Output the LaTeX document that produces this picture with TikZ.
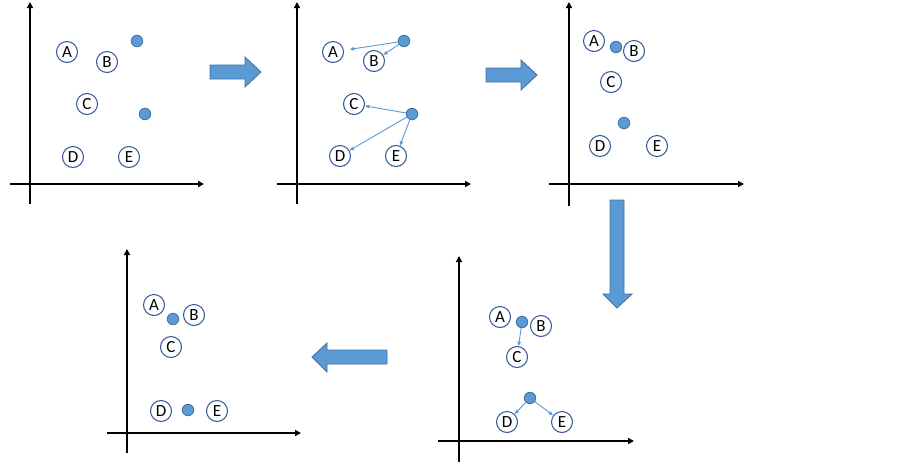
\documentclass[tikz,border=0pt]{standalone}
\usepackage{fontspec}
\setmainfont{Carlito}
\usetikzlibrary{arrows.meta}
\definecolor{fillb}{HTML}{5B9BD5}
\definecolor{lineb}{HTML}{41719C}
\definecolor{ringb}{HTML}{2F5597}
\begin{document}
\begin{tikzpicture}[x=1pt,y=-1pt,
 pt/.style={circle,draw=ringb,line width=1pt,fill=white,minimum size=21pt,inner sep=0pt,font=\fontsize{17}{17}\selectfont},
 ctr/.style={circle,draw=lineb,fill=fillb,line width=0.8pt,minimum size=11.5pt,inner sep=0pt},
 axis/.style={line width=1.5pt,-{Triangle[length=6pt,width=6pt]}},
 mv/.style={draw=fillb,line width=0.9pt,-{Triangle[length=4.5pt,width=3.5pt]}},
 blk/.style={fill=fillb,draw=lineb,line width=0.8pt}]
\useasboundingbox[fill=white] (0,0) rectangle (903,464);

% ---------- panel 1 ----------
\coordinate (p1xs) at (10,184); \coordinate (p1xe) at (204,184);
\coordinate (p1ys) at (30,204); \coordinate (p1ye) at (30,2);
\draw[axis] (p1xs) -- (p1xe);
\draw[axis] (p1ys) -- (p1ye);
\node[pt] (a1) at (67,52) {A};
\node[pt] (b1) at (107,62) {B};
\node[pt] (c1) at (87,104) {C};
\node[pt] (d1) at (73,157) {D};
\node[pt] (e1) at (129,157) {E};
\node[ctr] (k11) at (137,41) {};
\node[ctr] (k12) at (145,114) {};

% ---------- panel 2 ----------
\coordinate (p2xs) at (277,184); \coordinate (p2xe) at (471,184);
\coordinate (p2ys) at (297,204); \coordinate (p2ye) at (297,2);
\draw[axis] (p2xs) -- (p2xe);
\draw[axis] (p2ys) -- (p2ye);
\node[pt] (a2) at (333,52) {A};
\node[pt] (b2) at (374,61) {B};
\node[pt] (c2) at (354,104) {C};
\node[pt] (d2) at (340,156) {D};
\node[pt] (e2) at (396,156) {E};
\node[ctr] (k21) at (404,41) {};
\node[ctr] (k22) at (412,114) {};
\draw[mv,shorten >=6pt] (k21) -- (a2);
\draw[mv] (k21) -- (b2);
\draw[mv] (k22) -- (c2);
\draw[mv] (k22) -- (d2);
\draw[mv] (k22) -- (e2);

% ---------- panel 3 ----------
\coordinate (p3xs) at (549,184); \coordinate (p3xe) at (744,184);
\coordinate (p3ys) at (569,206); \coordinate (p3ye) at (569,2);
\draw[axis] (p3xs) -- (p3xe);
\draw[axis] (p3ys) -- (p3ye);
\node[pt] (a3) at (594,41) {A};
\node[pt] (b3) at (634,51) {B};
\node[pt] (c3) at (611,82) {C};
\node[pt] (d3) at (600,146) {D};
\node[pt] (e3) at (657,146) {E};
\node[ctr] (k31) at (616,47) {};
\node[ctr] (k32) at (624,123) {};

% ---------- panel 4 (bottom right) ----------
\coordinate (p4xs) at (438,441); \coordinate (p4xe) at (634,441);
\coordinate (p4ys) at (459,462); \coordinate (p4ye) at (459,256);
\draw[axis] (p4xs) -- (p4xe);
\draw[axis] (p4ys) -- (p4ye);
\node[pt] (a4) at (500,317) {A};
\node[pt] (b4) at (541,326) {B};
\node[pt] (c4) at (517,357) {C};
\node[pt] (d4) at (507,422) {D};
\node[pt] (e4) at (562,422) {E};
\node[ctr] (k41) at (522,322) {};
\node[ctr] (k42) at (530,398) {};
\draw[mv] (k41) -- (c4);
\draw[mv] (k42) -- (d4);
\draw[mv] (k42) -- (e4);

% ---------- panel 5 (bottom left) ----------
\coordinate (p5xs) at (107,433); \coordinate (p5xe) at (301,433);
\coordinate (p5ys) at (127,453); \coordinate (p5ye) at (127,249);
\draw[axis] (p5xs) -- (p5xe);
\draw[axis] (p5ys) -- (p5ye);
\node[pt] (a5) at (154,305) {A};
\node[pt] (b5) at (194,315) {B};
\node[pt] (c5) at (171,347) {C};
\node[pt] (d5) at (161,411) {D};
\node[pt] (e5) at (217,411) {E};
\node[ctr] (k51) at (173,319) {};
\node[ctr] (k52) at (188,410) {};

% ---------- block arrows ----------
\draw[blk] (210,65) -- (245,65) -- (245,57) -- (261,72) -- (245,87) -- (245,79) -- (210,79) -- cycle;
\draw[blk] (486,68) -- (521,68) -- (521,60) -- (537,75) -- (521,90) -- (521,82) -- (486,82) -- cycle;
\draw[blk] (610,200) -- (624,200) -- (624,294) -- (632,294) -- (617,308) -- (603,294) -- (610,294) -- cycle;
\draw[blk] (387,350) -- (327,350) -- (327,343) -- (312,357) -- (327,372) -- (327,364) -- (387,364) -- cycle;
\end{tikzpicture}
\end{document}
